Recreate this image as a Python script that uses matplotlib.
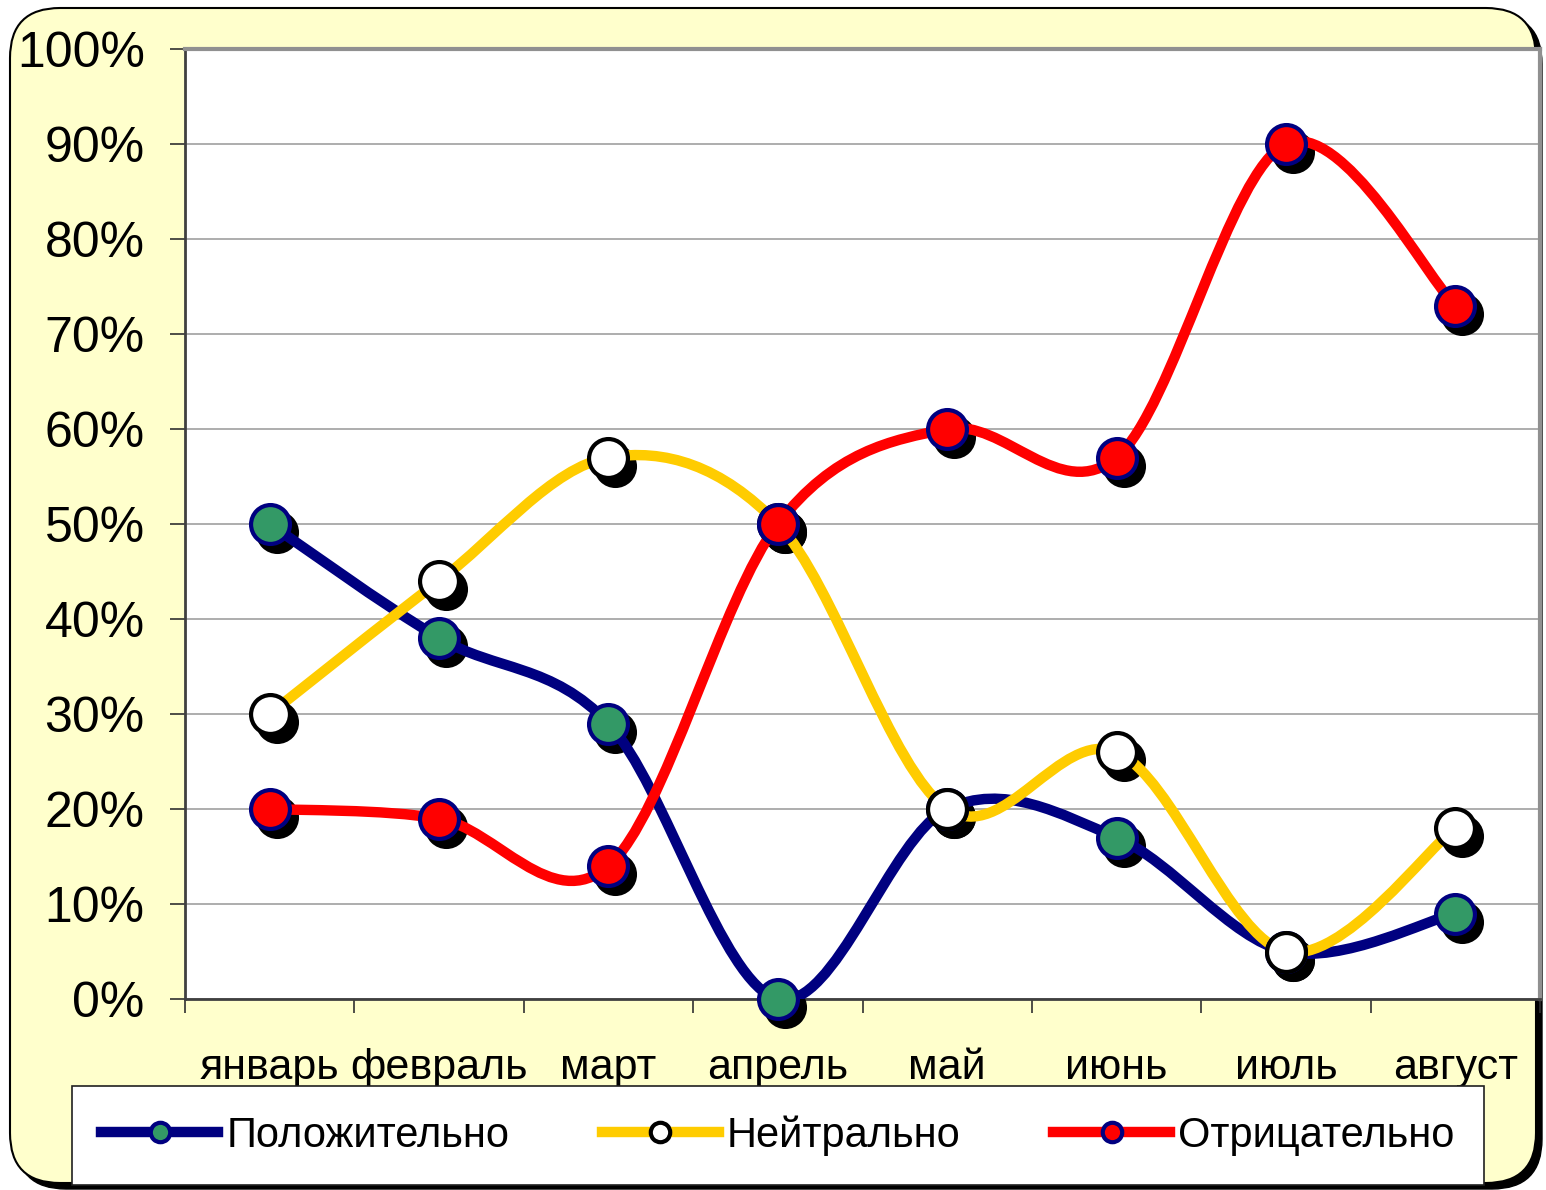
import matplotlib
matplotlib.use("Agg")
import matplotlib.pyplot as plt
from matplotlib.path import Path
from matplotlib.patches import PathPatch, FancyBboxPatch
from matplotlib.lines import Line2D
from matplotlib.transforms import IdentityTransform, offset_copy
from matplotlib.ticker import FixedLocator, PercentFormatter
import numpy as np

plt.rcParams['font.family'] = ['Liberation Sans', 'DejaVu Sans']

months = ["январь", "февраль", "март", "апрель", "май", "июнь", "июль", "август"]
series_names = ["Положительно", "Нейтрально", "Отрицательно"]
positive = [50, 38, 29, 0, 20, 17, 5, 9]
neutral = [30, 44, 57, 50, 20, 26, 5, 18]
negative = [20, 19, 14, 50, 60, 57, 90, 73]

line_colors = ["#000080", "#FFCC00", "#FF0000"]
face_colors = ["#339966", "#FFFFFF", "#FF0000"]
edge_colors = ["#000080", "#000000", "#000080"]

W, H = 1546, 1190
fig = plt.figure(figsize=(W / 100, H / 100), dpi=100)
fig.patch.set_facecolor("white")

# chart area background with shadow
shadow = FancyBboxPatch((16, 1), 1526, 1175, boxstyle="round,pad=0,rounding_size=50",
                        transform=IdentityTransform(), facecolor="black", edgecolor="black", zorder=-3)
bg = FancyBboxPatch((10, 7), 1526, 1175, boxstyle="round,pad=0,rounding_size=50",
                    transform=IdentityTransform(), facecolor="#FFFFCC", edgecolor="black",
                    linewidth=1.5, zorder=-2)
fig.add_artist(shadow)
fig.add_artist(bg)

ax = fig.add_axes([185 / W, 1 - 999 / H, (1540 - 185) / W, (999 - 49) / H])
ax.set_zorder(1)
ax.set_facecolor("white")
x = np.arange(len(months))
ax.set_xlim(-0.5, len(months) - 0.5)
ax.set_ylim(0, 100)


def smooth_path(xs, ys):
    xs = np.asarray(xs, float)
    ys = np.asarray(ys, float)
    n = len(xs)
    pts = np.column_stack([xs, ys])
    tang = np.zeros_like(pts)
    for i in range(n):
        a = pts[max(i - 1, 0)]
        b = pts[min(i + 1, n - 1)]
        tang[i] = (b - a) / 2.0
    verts = [pts[0]]
    codes = [Path.MOVETO]
    for i in range(n - 1):
        verts += [pts[i] + tang[i] / 3.0, pts[i + 1] - tang[i + 1] / 3.0, pts[i + 1]]
        codes += [Path.CURVE4] * 3
    return Path(verts, codes)


data = [positive, neutral, negative]
shadow_tr = offset_copy(ax.transData, fig=fig, x=5, y=-5.8, units="points")
for i, vals in enumerate(data):
    ax.plot(x, vals, linestyle="none", marker="o", ms=28, mew=3, mfc="black", mec="black",
            transform=shadow_tr, zorder=3, clip_on=False)
for i, vals in enumerate(data):
    patch = PathPatch(smooth_path(x, vals), facecolor="none", edgecolor=line_colors[i],
                      linewidth=7.5, capstyle="round", joinstyle="round", zorder=4 + i * 0.1)
    ax.add_patch(patch)
for i, vals in enumerate(data):
    ax.plot(x, vals, linestyle="none", marker="o", ms=28, mew=3, mfc=face_colors[i],
            mec=edge_colors[i], zorder=5 + i * 0.1, clip_on=False)

# grid and axes
ax.yaxis.set_major_locator(FixedLocator(np.arange(0, 101, 10)))
ax.yaxis.set_major_formatter(PercentFormatter(decimals=0))
ax.grid(axis="y", color="#A0A0A0", linewidth=1.2, zorder=1)
ax.set_axisbelow(True)
ax.set_xticks(x)
ax.set_xticklabels(months)
ax.xaxis.set_minor_locator(FixedLocator(np.arange(-0.5, len(months), 1.0)))
ax.tick_params(axis="x", which="major", length=0, pad=35, labelsize=31)
ax.tick_params(axis="x", which="minor", length=10, width=1.2, color="#303030", direction="out")
ax.tick_params(axis="y", which="major", length=11, width=1.2, color="#303030", direction="out",
               pad=18, labelsize=36)
for s in ["left", "bottom"]:
    ax.spines[s].set_color("#404040")
    ax.spines[s].set_linewidth(2)
for s in ["top", "right"]:
    ax.spines[s].set_color("#909090")
    ax.spines[s].set_linewidth(3)

handles = [Line2D([], [], color=line_colors[i], lw=7.5, marker="o", ms=14, mfc=face_colors[i],
                  mec=edge_colors[i], mew=3) for i in range(3)]
leg = fig.legend(handles, series_names, loc="lower left",
                 bbox_to_anchor=(72 / W, 1 - 1185 / H, (1484 - 72) / W, (1185 - 1082) / H),
                 mode="expand", ncol=3, fontsize=30, frameon=True, fancybox=False,
                 handlelength=2.8, handletextpad=0.2, borderpad=0.7, borderaxespad=0)
leg.get_frame().set_edgecolor("#202020")
leg.get_frame().set_linewidth(1.2)
leg.get_frame().set_alpha(1)
leg.set_zorder(10)

fig.savefig("out.png", dpi=100)
